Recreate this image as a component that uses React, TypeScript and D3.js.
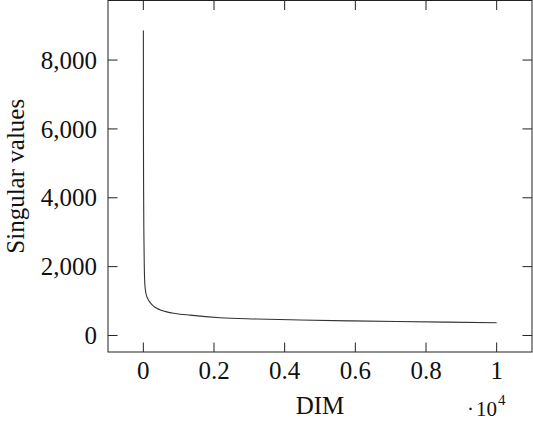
import React from "react";
import * as d3 from "d3";

const dimIdx = [1, 3, 8, 15, 28, 45, 75, 120, 190, 280, 380, 500, 662, 900, 1322, 2170, 3200, 4435, 5800, 7170, 8600, 10000];
const singularValues = [8860, 6000, 4200, 3000, 1950, 1450, 1220, 1080, 960, 860, 790, 735, 685, 640, 590, 516, 480, 450, 425, 406, 388, 371];
const xTicks = [0, 2000, 4000, 6000, 8000, 10000];
const yTicks = [0, 2000, 4000, 6000, 8000];

const W = 533;
const H = 421;
const L = 108, R = 532, T = 0.5, B = 352;
const FONT = "'Liberation Serif', 'Times New Roman', serif";

export default function App() {
  const x = d3.scaleLinear().domain([-1000, 11000]).range([L, R]);
  const y = d3.scaleLinear().domain([-480, 9730]).range([B, T]);
  const line = d3
    .line<number>()
    .x((_, i) => x(dimIdx[i]))
    .y((d) => y(d))
    .curve(d3.curveMonotoneX);
  const fmtY = d3.format(",");
  const fmtX = (v: number) => {
    const s = v / 10000;
    return s === 0 || s === 1 ? String(s) : s.toFixed(1);
  };
  const tl = 9.5;
  return (
    <svg
      width={W}
      height={H}
      style={{ position: "absolute", left: 0, top: 0, background: "#fff" }}
      fontFamily={FONT}
    >
      <path d={line(singularValues) || ""} fill="none" stroke="#333" strokeWidth={1.1} />
      {xTicks.map((t) => (
        <g key={"x" + t}>
          <line x1={x(t)} x2={x(t)} y1={B} y2={B - tl} stroke="#222" strokeWidth={1} />
          <line x1={x(t)} x2={x(t)} y1={T} y2={T + tl} stroke="#222" strokeWidth={1} />
          <text x={x(t)} y={379} fontSize={25} textAnchor="middle" fill="#111">
            {fmtX(t)}
          </text>
        </g>
      ))}
      {yTicks.map((t) => (
        <g key={"y" + t}>
          <line x1={L} x2={L + tl} y1={y(t)} y2={y(t)} stroke="#222" strokeWidth={1} />
          <line x1={R} x2={R - tl} y1={y(t)} y2={y(t)} stroke="#222" strokeWidth={1} />
          <text x={97} y={y(t) + 8.6} fontSize={25} textAnchor="end" fill="#111">
            {fmtY(t)}
          </text>
        </g>
      ))}
      <rect x={L} y={T} width={R - L} height={B - T} fill="none" stroke="#222" strokeWidth={1} />
      <text x={(L + R) / 2} y={414} fontSize={25} textAnchor="middle" fill="#111">
        DIM
      </text>
      <text
        transform={`translate(24, ${(T + B) / 2}) rotate(-90)`}
        fontSize={25}
        textAnchor="middle"
        fill="#111"
      >
        Singular values
      </text>
      <text x={467} y={416} fontSize={21} textAnchor="start" fill="#111">
        ·
      </text>
      <text x={476} y={416} fontSize={21} textAnchor="start" fill="#111">
        10
      </text>
      <text x={498} y={405} fontSize={15} textAnchor="start" fill="#111">
        4
      </text>
    </svg>
  );
}
